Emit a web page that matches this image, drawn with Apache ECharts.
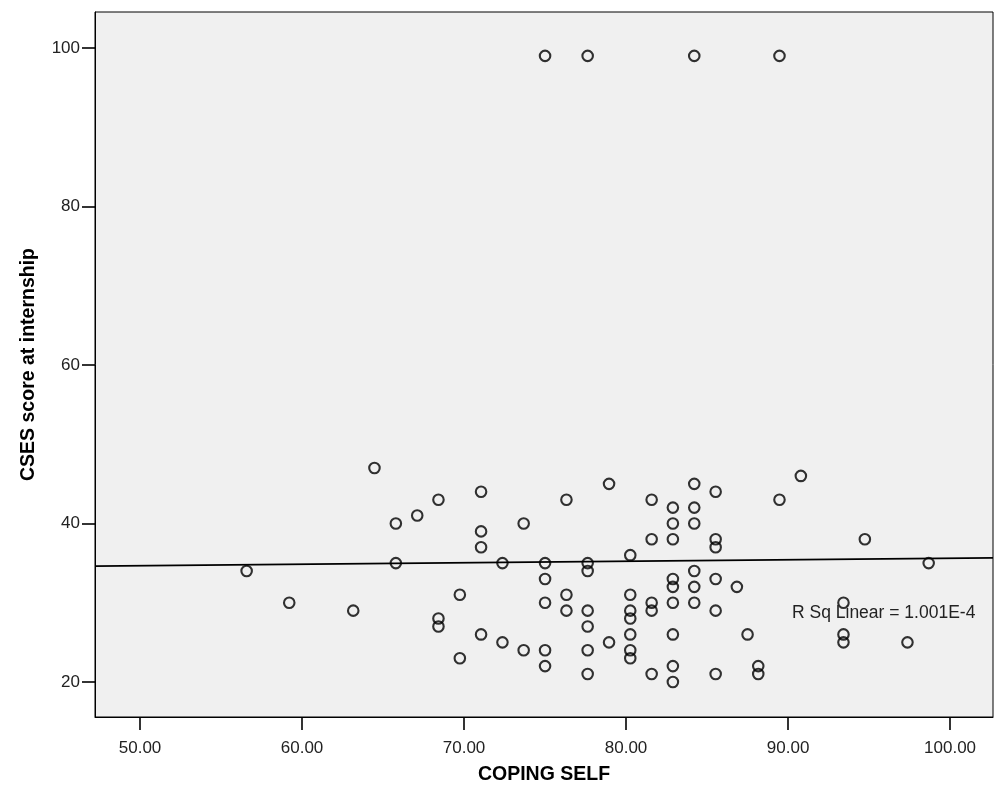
<!DOCTYPE html>
<html>
<head>
<meta charset="utf-8">
<script src="https://cdn.jsdelivr.net/npm/echarts@6/dist/echarts.min.js"></script>
<style>
  html, body { margin: 0; padding: 0; background: #fff; }
  #chart { width: 996px; height: 797px; }
</style>
</head>
<body>
<div id="chart"></div>
<script>
  // COPING SELF (x) and CSES score at internship (y), one entry per case
  var copingSelf = [
    56.58, 59.21, 63.16, 64.47, 65.79, 65.79, 67.11, 68.42, 68.42, 68.42,
    69.74, 69.74, 71.05, 71.05, 71.05, 71.05, 72.37, 72.37, 73.68, 73.68,
    75.00, 75.00, 75.00, 75.00, 75.00, 75.00, 76.32, 76.32, 76.32, 77.63,
    77.63, 77.63, 77.63, 77.63, 77.63, 77.63, 78.95, 78.95, 80.26, 80.26,
    80.26, 80.26, 80.26, 80.26, 80.26, 81.58, 81.58, 81.58, 81.58, 81.58,
    82.89, 82.89, 82.89, 82.89, 82.89, 82.89, 82.89, 82.89, 82.89, 84.21,
    84.21, 84.21, 84.21, 84.21, 84.21, 84.21, 85.53, 85.53, 85.53, 85.53,
    85.53, 85.53, 86.84, 87.50, 88.16, 88.16, 89.47, 89.47, 90.79, 93.42,
    93.42, 93.42, 94.74, 97.37, 98.68
  ];
  var csesScore = [
    34, 30, 29, 47, 40, 35, 41, 43, 28, 27,
    31, 23, 44, 39, 37, 26, 35, 25, 40, 24,
    99, 35, 33, 30, 24, 22, 43, 31, 29, 99,
    35, 34, 29, 27, 24, 21, 45, 25, 36, 31,
    29, 28, 26, 24, 23, 43, 38, 30, 29, 21,
    42, 40, 38, 33, 32, 30, 26, 22, 20, 99,
    45, 42, 40, 34, 32, 30, 44, 38, 37, 33,
    29, 21, 32, 26, 22, 21, 99, 43, 46, 30,
    26, 25, 38, 25, 35
  ];
  var xTicks = [50, 60, 70, 80, 90, 100];
  var yTicks = [20, 40, 60, 80, 100];

  // linear fit line
  var fitIntercept = 33.73;
  var fitSlope = 0.0188;
  var fitLabel = 'R Sq Linear = 1.001E-4';

  var xMin = 47.22, xMax = 102.65;
  var yMin = 15.58, yMax = 104.54;

  var points = copingSelf.map(function (x, i) { return [x, csesScore[i]]; });
  var fitLine = [xMin, xMax].map(function (x) { return [x, fitIntercept + fitSlope * x]; });

  var font = '"Liberation Sans", Arial, sans-serif';
  var chart = echarts.init(document.getElementById('chart'));
  chart.setOption({
    animation: false,
    grid: {
      left: 95, right: 3, top: 12, bottom: 80,
      show: true,
      backgroundColor: '#f0f0f0',
      borderColor: '#000',
      borderWidth: 1
    },
    xAxis: {
      type: 'value',
      min: xMin, max: xMax,
      name: 'COPING SELF',
      nameLocation: 'middle',
      nameGap: 48,
      nameTextStyle: { fontFamily: font, fontSize: 19.5, fontWeight: 'bold', color: '#000' },
      axisLine: { show: true, onZero: false, lineStyle: { color: '#000', width: 1 } },
      axisTick: { show: true, customValues: xTicks, length: 13, lineStyle: { color: '#000', width: 1.6 } },
      axisLabel: {
        customValues: xTicks, margin: 23,
        fontFamily: font, fontSize: 17, color: '#222',
        formatter: function (v) { return v.toFixed(2); }
      },
      splitLine: { show: false }
    },
    yAxis: {
      type: 'value',
      min: yMin, max: yMax,
      name: 'CSES score at internship',
      nameLocation: 'middle',
      nameGap: 56,
      nameTextStyle: { fontFamily: font, fontSize: 19.5, fontWeight: 'bold', color: '#000' },
      axisLine: { show: true, onZero: false, lineStyle: { color: '#000', width: 1 } },
      axisTick: { show: true, customValues: yTicks, length: 13, lineStyle: { color: '#000', width: 1.6 } },
      axisLabel: {
        customValues: yTicks, margin: 15,
        fontFamily: font, fontSize: 17, color: '#222'
      },
      splitLine: { show: false }
    },
    series: [
      {
        type: 'line',
        data: fitLine,
        symbol: 'none',
        lineStyle: { color: '#000', width: 1.8 },
        z: 2
      },
      {
        type: 'scatter',
        data: points,
        symbol: 'circle',
        symbolSize: 10.5,
        itemStyle: { color: 'rgba(0,0,0,0)', borderColor: '#000', borderWidth: 2.1 },
        z: 3
      }
    ],
    graphic: [
      {
        type: 'text',
        x: 792, y: 613,
        style: {
          text: fitLabel,
          font: '17.5px "Liberation Sans", Arial, sans-serif',
          fill: '#222',
          verticalAlign: 'middle'
        },
        z: 10
      }
    ]
  });
</script>
</body>
</html>
